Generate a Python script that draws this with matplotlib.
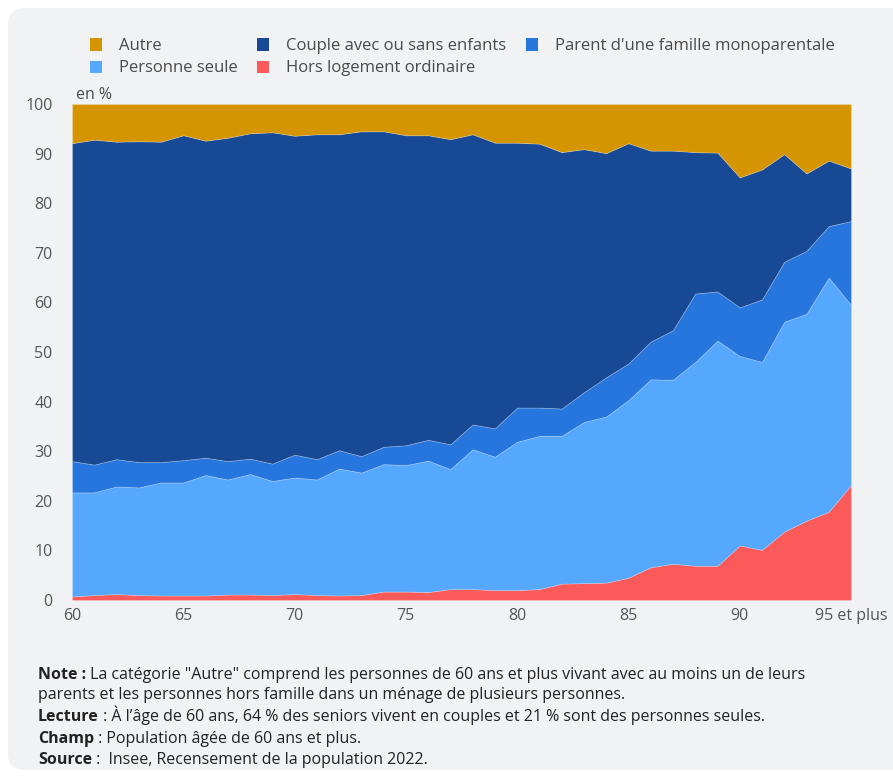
"""Stacked area chart: living arrangements of seniors by age (Insee, RP 2022)."""

import matplotlib
matplotlib.use('Agg')
import matplotlib.pyplot as plt
from matplotlib.patches import FancyBboxPatch, Rectangle


plt.rcParams['font.family'] = ['Open Sans', 'DejaVu Sans']

# Data (shares in %, by age)
ages = list(range(60, 96))
hors_logement = [0.7, 1.0, 1.2, 1.0, 0.9, 0.9, 0.9, 1.1, 1.1, 1.0, 1.2, 1.0,
                 0.9, 1.0, 1.7, 1.7, 1.6, 2.2, 2.2, 2.0, 2.0, 2.2, 3.3, 3.4,
                 3.5, 4.5, 6.6, 7.3, 6.9, 6.9, 11.0, 10.1, 13.8, 16.0, 17.8, 23.2]
personne_seule = [21.0, 20.7, 21.7, 21.7, 22.8, 22.8, 24.3, 23.2, 24.3, 23.0, 23.5, 23.3,
                  25.6, 24.7, 25.7, 25.5, 26.5, 24.2, 28.2, 26.9, 29.9, 30.9, 29.8, 32.5,
                  33.5, 35.8, 37.9, 37.1, 41.1, 45.4, 38.2, 37.9, 42.3, 41.7, 47.2, 36.3]
parent_mono = [6.3, 5.6, 5.5, 5.1, 4.1, 4.5, 3.5, 3.7, 3.1, 3.5, 4.6, 4.1,
               3.7, 3.3, 3.5, 4.0, 4.2, 5.0, 5.0, 5.7, 6.9, 5.7, 5.5, 6.0,
               7.9, 7.4, 7.6, 10.0, 13.8, 9.9, 9.8, 12.6, 12.1, 12.7, 10.4, 16.9]
couple = [64.1, 65.5, 64.0, 64.7, 64.6, 65.5, 63.9, 65.2, 65.6, 66.8, 64.3, 65.5,
          63.7, 65.5, 63.6, 62.5, 61.4, 61.5, 58.5, 57.6, 53.4, 53.2, 51.7, 49.0,
          45.2, 44.4, 38.5, 36.2, 28.5, 28.0, 26.2, 26.2, 21.7, 15.6, 13.2, 10.6]
autre = [round(100 - a - b - c - d, 1) for a, b, c, d in
         zip(hors_logement, personne_seule, parent_mono, couple)]

x_ticks = [60, 65, 70, 75, 80, 85, 90, 95]
x_tick_labels = ['60', '65', '70', '75', '80', '85', '90', '95 et plus']

COLORS = {
    'autre': '#D49500',
    'couple': '#184994',
    'parent': '#2676DD',
    'seule': '#55A8FE',
    'hors': '#FA5A5A',
}
LABELS = {
    'autre': 'Autre',
    'couple': 'Couple avec ou sans enfants',
    'parent': "Parent d'une famille monoparentale",
    'seule': 'Personne seule',
    'hors': 'Hors logement ordinaire',
}
TEXT_GREY = '#4A4A4A'

W, H = 893, 778
fig = plt.figure(figsize=(W / 100, H / 100), dpi=100)
fig.patch.set_facecolor('white')

# Light grey card behind everything
card = FancyBboxPatch((8 / W, 8 / H), 1.2, (H - 16) / H,
                      boxstyle='round,pad=0,rounding_size=0.02',
                      transform=fig.transFigure, facecolor='#F1F2F4',
                      edgecolor='none', zorder=-10)
fig.patches.append(card)

ax = fig.add_axes([72 / W, 1 - 600 / H, 779 / W, 496 / H])
ax.set_facecolor('#F1F2F4')

ax.stackplot(
    ages, hors_logement, personne_seule, parent_mono, couple, autre,
    colors=[COLORS['hors'], COLORS['seule'], COLORS['parent'],
            COLORS['couple'], COLORS['autre']],
    edgecolor=(1, 1, 1, 0.25), linewidth=0.6,
)

ax.set_xlim(60, 95)
ax.set_ylim(0, 100)
ax.set_yticks(range(0, 101, 10))
ax.set_xticks(x_ticks)
ax.set_xticklabels(x_tick_labels)
ax.tick_params(axis='both', length=0, labelsize=11.5, labelcolor='#555555')
ax.tick_params(axis='y', pad=14)
ax.tick_params(axis='x', pad=6)
for spine in ax.spines.values():
    spine.set_visible(False)

fig.text(76 / W, 1 - 95 / H, 'en %', fontsize=11.5, color=TEXT_GREY,
         va='center', ha='left')

# Legend (two rows, squares + labels)
legend_items = [
    ('autre', 90, 44.5), ('couple', 257, 44.5), ('parent', 526, 44.5),
    ('seule', 90, 67), ('hors', 257, 67),
]
for key, px, py in legend_items:
    fig.patches.append(Rectangle((px / W, 1 - (py + 6) / H), 12 / W, 12 / H,
                                 transform=fig.transFigure,
                                 facecolor=COLORS[key], edgecolor='none'))
    fig.text((px + 29) / W, 1 - (py + 1) / H, LABELS[key], fontsize=12,
             color=TEXT_GREY, va='center', ha='left')

# Footnotes: bold heading followed by regular text (y = baseline, px from top)
notes = [
    ('Note :', ' La catégorie "Autre" comprend les personnes de 60 ans et plus '
               'vivant avec au moins un de leurs', 679),
    ('', 'parents et les personnes hors famille dans un ménage de plusieurs '
         'personnes.', 699),
    ('Lecture', ' : À l’âge de 60 ans, 64 % des seniors vivent en couples et '
                '21 % sont des personnes seules.', 721),
    ('Champ', ' : Population âgée de 60 ans et plus.', 743),
    ('Source', ' :  Insee, Recensement de la population 2022.', 764),
]
renderer = fig.canvas.get_renderer()
for head, body, py in notes:
    x0 = 38
    if head:
        t = fig.text(x0 / W, 1 - py / H, head, fontsize=11.5, fontweight='bold',
                     color='#222222', va='baseline', ha='left')
        x0 = t.get_window_extent(renderer).x1
    fig.text(x0 / W, 1 - py / H, body, fontsize=11.5, color='#222222',
             va='baseline', ha='left')

fig.savefig('out.png', dpi=100, facecolor=fig.get_facecolor())
plt.close(fig)
